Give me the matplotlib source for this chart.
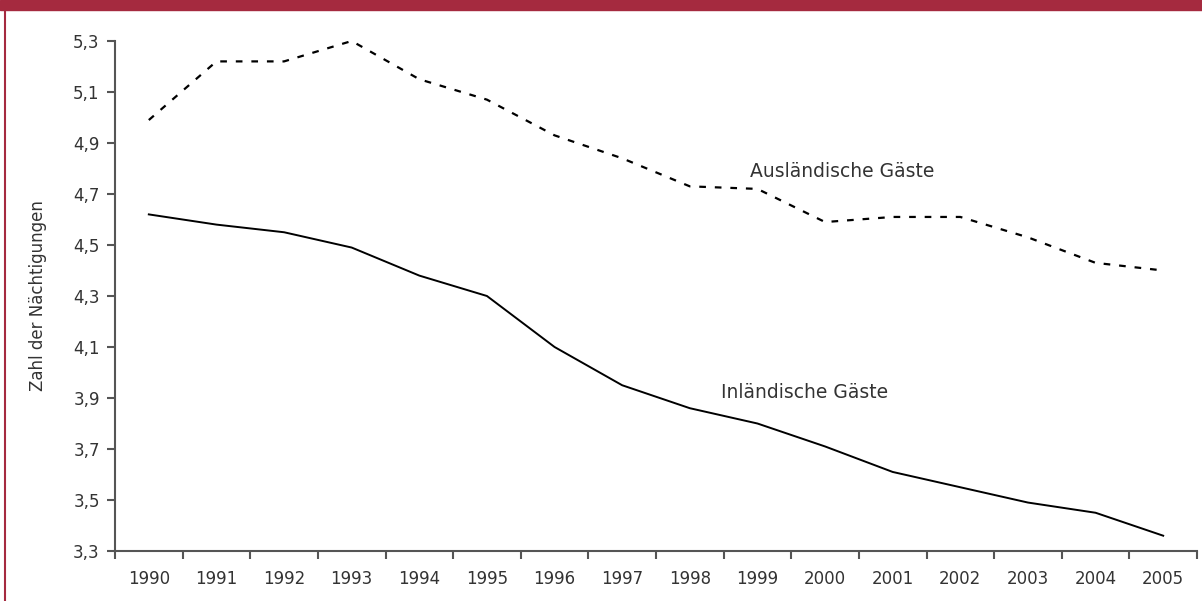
import numpy as np
import matplotlib.pyplot as plt
from matplotlib.patches import Rectangle
from matplotlib.lines import Line2D

jahre = ['1990', '1991', '1992', '1993', '1994', '1995', '1996', '1997',
         '1998', '1999', '2000', '2001', '2002', '2003', '2004', '2005']
auslaendisch = [4.99, 5.22, 5.22, 5.30, 5.15, 5.07, 4.93, 4.84,
                4.73, 4.72, 4.59, 4.61, 4.61, 4.53, 4.43, 4.40]
inlaendisch = [4.62, 4.58, 4.55, 4.49, 4.38, 4.30, 4.10, 3.95,
               3.86, 3.80, 3.71, 3.61, 3.55, 3.49, 3.45, 3.36]
y_ticks = [3.3, 3.5, 3.7, 3.9, 4.1, 4.3, 4.5, 4.7, 4.9, 5.1, 5.3]

rot = '#a52a3f'
grau = '#555555'
text_col = '#333333'

plt.rcParams['font.family'] = ['DejaVu Sans']

fig = plt.figure(figsize=(12.02, 6.01), dpi=100)
ax = fig.add_axes([115 / 1202, 1 - 551 / 601, (1197 - 115) / 1202, (551 - 41) / 601])

x = np.arange(len(jahre)) + 0.5
ax.plot(x, auslaendisch, color='black', lw=1.6, linestyle=(0, (3, 4)))
ax.plot(x, inlaendisch, color='black', lw=1.4)

ax.set_xlim(0, len(jahre))
ax.set_ylim(3.3, 5.3)
ax.set_yticks(y_ticks)
ax.set_yticklabels([f'{v:.1f}'.replace('.', ',') for v in y_ticks])
ax.set_xticks(np.arange(len(jahre) + 1))
ax.set_xticklabels([])
ax.set_xticks(x, minor=True)
ax.set_xticklabels(jahre, minor=True)
ax.tick_params(axis='x', which='minor', length=0, pad=14, labelsize=12, labelcolor=text_col)
ax.tick_params(axis='x', which='major', length=6, width=1.5, color=grau)
ax.tick_params(axis='y', length=6, width=1.5, color=grau, labelsize=12, labelcolor=text_col, pad=5)

for s in ['top', 'right']:
    ax.spines[s].set_visible(False)
for s in ['left', 'bottom']:
    ax.spines[s].set_color(grau)
    ax.spines[s].set_linewidth(1.5)

ax.set_ylabel('Zahl der Nächtigungen', fontsize=12, color=text_col, labelpad=19)

ax.text(10.76, 4.79, 'Ausländische Gäste', fontsize=13.5, color=text_col, ha='center', va='center')
ax.text(10.2, 3.92, 'Inländische Gäste', fontsize=13.5, color=text_col, ha='center', va='center')

# Rahmen oben und links
fig.patches.append(Rectangle((0, 1 - 10 / 601), 1, 10 / 601, transform=fig.transFigure,
                             color=rot, zorder=0))
fig.lines.append(Line2D([5 / 1202, 5 / 1202], [0, 1 - 9 / 601], transform=fig.transFigure,
                        color=rot, lw=1.5))

fig.savefig('out.png', dpi=100)
